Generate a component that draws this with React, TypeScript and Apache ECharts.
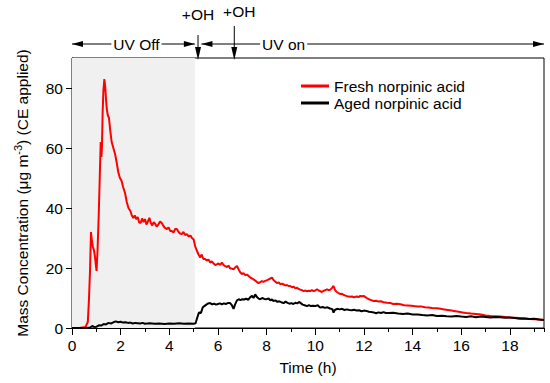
import React, { useEffect, useRef } from "react";
import * as echarts from "echarts";

const FONT = "'Liberation Sans', Arial, sans-serif";
const FS = 15.5;

// Fresh norpinic acid (red)
const freshTime = [0, 0.3, 0.55, 0.65, 0.7, 0.74, 0.78, 0.82, 0.86, 0.9, 0.94, 0.98, 1.01, 1.05, 1.1, 1.14, 1.18, 1.21, 1.23, 1.26, 1.29, 1.33, 1.37, 1.4, 1.43, 1.47, 1.52, 1.57, 1.63, 1.7, 1.77, 1.84, 1.9, 1.97, 2.04, 2.1, 2.18, 2.25, 2.32, 2.4, 2.46, 2.52, 2.58, 2.64, 2.7, 2.76, 2.82, 2.88, 2.94, 3.0, 3.06, 3.12, 3.18, 3.24, 3.3, 3.36, 3.42, 3.48, 3.55, 3.62, 3.69, 3.76, 3.83, 3.9, 3.97, 4.04, 4.1, 4.17, 4.24, 4.31, 4.38, 4.44, 4.51, 4.58, 4.65, 4.72, 4.8, 4.87, 4.93, 5.0, 5.06, 5.12, 5.2, 5.27, 5.33, 5.4, 5.47, 5.54, 5.61, 5.68, 5.75, 5.82, 5.89, 5.95, 6.02, 6.09, 6.16, 6.23, 6.3, 6.37, 6.44, 6.5, 6.57, 6.64, 6.71, 6.78, 6.85, 6.92, 6.98, 7.05, 7.12, 7.19, 7.26, 7.33, 7.4, 7.46, 7.53, 7.6, 7.67, 7.74, 7.8, 7.87, 7.94, 8.0, 8.08, 8.15, 8.22, 8.28, 8.35, 8.42, 8.5, 8.56, 8.63, 8.7, 8.77, 8.84, 8.9, 8.97, 9.04, 9.11, 9.18, 9.25, 9.32, 9.38, 9.45, 9.52, 9.6, 9.66, 9.73, 9.79, 9.86, 9.93, 10.0, 10.07, 10.14, 10.2, 10.27, 10.34, 10.41, 10.48, 10.55, 10.62, 10.68, 10.75, 10.82, 10.89, 10.96, 11.03, 11.1, 11.17, 11.24, 11.3, 11.37, 11.44, 11.51, 11.58, 11.65, 11.72, 11.78, 11.85, 11.92, 11.99, 12.06, 12.13, 12.2, 12.3, 12.4, 12.5, 12.6, 12.7, 12.8, 12.95, 13.1, 13.2, 13.35, 13.5, 13.65, 13.8, 13.95, 14.05, 14.2, 14.35, 14.5, 14.65, 14.8, 15.0, 15.15, 15.3, 15.45, 15.6, 15.75, 15.9, 16.05, 16.2, 16.4, 16.6, 16.8, 17.0, 17.2, 17.4, 17.6, 17.8, 18.0, 18.2, 18.4, 18.6, 18.8, 19.0, 19.2, 19.4];
const freshValues = [0, 0, 0.3, 2, 10, 19, 32, 29, 27, 26, 24, 21, 19, 26, 38, 50, 62, 57, 60, 72, 79, 83, 80, 76, 73, 71, 70, 66, 62, 60, 58, 55, 52, 50, 49, 47, 45, 42, 40, 39, 37.5, 36.7, 37.5, 36.3, 37, 35.2, 35, 36.5, 35.3, 36.3, 34.5, 35.5, 36.7, 35, 34.2, 35.3, 34.7, 33.8, 34.5, 35.5, 35, 34, 33.3, 33, 33.5, 32.3, 32.3, 31.8, 33, 33, 32, 31.5, 31.3, 32, 31, 31.3, 30.5, 30.8, 30, 29.5, 27.3, 26, 24.5, 23.5, 24.5, 23, 23, 22.5, 22.8, 21.8, 22.2, 21.5, 21, 21.2, 21.5, 21, 21.8, 21, 20.6, 20.3, 20.8, 19.8, 19.8, 19.6, 20.2, 20.7, 19.5, 18.5, 18, 18.3, 17.6, 17.8, 17.3, 16.8, 16.5, 16.2, 15.8, 15.3, 15, 15.3, 15.6, 15.4, 15.7, 15.9, 16.2, 16.5, 16.8, 16, 15.5, 15, 15.2, 14.6, 14.8, 14.5, 14.2, 14.3, 14, 14, 13.6, 13.8, 13.2, 13.4, 13, 12.8, 12.6, 12.3, 12.5, 12.2, 12.4, 12.3, 12.6, 12.3, 12.5, 12.9, 12.5, 12.3, 12.0, 12.4, 12.6, 12.9, 12.6, 12.8, 13.3, 14, 12.5, 12, 11.6, 11.3, 11.4, 11.0, 10.8, 10.6, 10.5, 10.4, 10.5, 10.2, 10.4, 10.5, 10.3, 10.7, 10.6, 10.7, 10.3, 9.9, 9.6, 9.3, 9.0, 9.1, 8.8, 8.9, 8.6, 8.4, 8.3, 8.0, 8.1, 7.9, 7.6, 7.5, 7.4, 7.3, 7.2, 7.2, 6.9, 6.8, 6.7, 6.6, 6.4, 6.2, 6.0, 5.8, 5.6, 5.4, 5.2, 5.0, 4.8, 4.7, 4.5, 4.2, 4.0, 3.9, 3.8, 3.7, 3.5, 3.4, 3.3, 3.2, 3.0, 2.9, 2.8, 2.7];

// Aged norpinic acid (black)
const agedTime = [0, 0.6, 0.75, 0.85, 0.9, 1.0, 1.1, 1.2, 1.3, 1.4, 1.5, 1.6, 1.7, 1.8, 1.9, 2.0, 2.1, 2.2, 2.3, 2.4, 2.5, 2.6, 2.7, 2.8, 2.9, 3.0, 3.2, 3.4, 3.6, 3.8, 4.0, 4.2, 4.4, 4.6, 4.8, 5.0, 5.08, 5.15, 5.22, 5.3, 5.37, 5.44, 5.52, 5.6, 5.68, 5.76, 5.84, 5.92, 6.0, 6.08, 6.16, 6.24, 6.32, 6.4, 6.5, 6.57, 6.64, 6.7, 6.78, 6.85, 6.92, 7.0, 7.08, 7.16, 7.24, 7.32, 7.4, 7.46, 7.53, 7.6, 7.67, 7.74, 7.82, 7.9, 8.0, 8.08, 8.15, 8.22, 8.28, 8.36, 8.44, 8.52, 8.6, 8.7, 8.78, 8.86, 8.94, 9.02, 9.1, 9.18, 9.26, 9.33, 9.4, 9.48, 9.56, 9.66, 9.74, 9.82, 9.9, 10.0, 10.1, 10.2, 10.3, 10.4, 10.5, 10.6, 10.7, 10.75, 10.8, 10.9, 11.0, 11.1, 11.2, 11.3, 11.4, 11.5, 11.6, 11.7, 11.8, 11.9, 12.0, 12.1, 12.2, 12.3, 12.4, 12.5, 12.6, 12.7, 12.8, 12.9, 13.0, 13.2, 13.4, 13.6, 13.8, 14.0, 14.2, 14.4, 14.6, 14.8, 15.0, 15.2, 15.4, 15.6, 15.8, 16.0, 16.2, 16.4, 16.6, 16.8, 17.0, 17.2, 17.4, 17.6, 17.8, 18.0, 18.2, 18.4, 18.6, 18.8, 19.0, 19.2, 19.4];
const agedValues = [0, 0, 0.2, 0.7, 0.3, 0.4, 0.9, 0.8, 1.3, 1.2, 1.7, 1.5, 1.9, 2.2, 1.9, 2.1, 1.8, 1.9, 1.7, 1.8, 1.5, 1.7, 1.6, 1.5, 1.7, 1.4, 1.6, 1.4, 1.5, 1.3, 1.5, 1.4, 1.6, 1.4, 1.5, 1.4, 1.6, 3.5, 5.2, 5.0, 6.8, 7.3, 7.8, 8.2, 8.3, 7.9, 8.1, 7.8, 8.0, 8.2, 7.9, 8.2, 8.0, 8.3, 8.3, 7.6, 6.4, 7.8, 9.2, 9.6, 9.3, 9.6, 9.5, 9.8, 9.4, 10.2, 10.7, 10.0, 11.2, 10.3, 9.8, 9.6, 10.0, 9.7, 9.6, 9.9, 9.2, 9.5, 9.0, 9.2, 8.7, 8.9, 8.6, 8.3, 8.8, 8.4, 8.1, 8.3, 8.0, 8.4, 8.2, 8.7, 8.3, 7.8, 7.6, 7.3, 7.6, 7.3, 7.4, 7.3, 7.6, 6.8, 7.0, 6.7, 6.9, 6.5, 6.3, 5.1, 6.0, 6.4, 6.2, 6.4, 6.0, 6.2, 6.0, 5.9, 6.1, 5.8, 5.9, 5.6, 5.8, 5.7, 5.4, 5.3, 5.2, 4.9, 5.2, 5.0, 5.3, 5.0, 5.0, 5.1, 4.8, 4.7, 4.8, 4.5, 4.5, 4.3, 4.2, 4.3, 4.0, 4.1, 3.9, 3.8, 4.0, 3.8, 3.7, 3.9, 3.6, 3.8, 3.7, 3.5, 3.7, 3.6, 3.4, 3.5, 3.3, 3.1, 3.2, 3.0, 3.1, 2.8, 2.7];

const seriesNames = ["Fresh norpinic acid", "Aged norpinic acid"];
const seriesColors = ["#ff0000", "#000000"];

// Annotation times (h)
const shadeStart = 0;
const shadeEnd = 5.05;
const uvOnStart = 5.32;
const ohTimes = [5.18, 6.67];
const uvOffLabelT = 2.65;
const uvOnLabelT = 8.7;
const xMax = 19.4;
const yMax = 90;

export default function App() {
  const ref = useRef<HTMLDivElement>(null);
  useEffect(() => {
    if (!ref.current) return;
    const chart = echarts.init(ref.current, null, { renderer: "svg" });
    const txt = { color: "#000", fontSize: FS, fontFamily: FONT };
    const fresh = freshTime.map((t, i) => [t, freshValues[i]]);
    const aged = agedTime.map((t, i) => [t, agedValues[i]]);
    chart.setOption({
      animation: false,
      grid: { left: 72, right: 6, top: 58, bottom: 55, show: true, borderColor: "#000", borderWidth: 1, backgroundColor: "transparent" },
      legend: {
        orient: "vertical",
        left: 296,
        top: 73,
        itemWidth: 28,
        itemHeight: 3,
        itemGap: 1,
        icon: "rect",
        textStyle: { ...txt },
        data: seriesNames,
      },
      xAxis: [
        {
          type: "value", min: 0, max: xMax, interval: 2, position: "bottom",
          axisLine: { onZero: false, lineStyle: { color: "#000", width: 1 } },
          axisTick: { length: 7, lineStyle: { color: "#000" } },
          axisLabel: { ...txt, margin: 9, showMaxLabel: false },
          splitLine: { show: false },
          name: "Time (h)", nameLocation: "middle", nameGap: 31, nameTextStyle: { ...txt },
        },
        {
          type: "value", min: 0, max: xMax, interval: 1, position: "bottom",
          axisLine: { show: false }, axisTick: { length: 4, lineStyle: { color: "#000" } },
          axisLabel: { show: false }, splitLine: { show: false },
        },
      ],
      yAxis: {
        type: "value", min: 0, max: yMax, interval: 20,
        axisLine: { show: true, lineStyle: { color: "#000", width: 1 } },
        axisTick: { show: true, length: 6, lineStyle: { color: "#000" } },
        axisLabel: { ...txt, margin: 9, showMaxLabel: false },
        splitLine: { show: false },
        name: "{n|Mass Concentration (μg m}{s|-3}{n|) (CE applied)}",
        nameLocation: "middle", nameGap: 39,
        nameTextStyle: {
          ...txt,
          rich: {
            n: { fontSize: FS, fontFamily: FONT, color: "#000", lineHeight: 21 },
            s: { fontSize: 11, fontFamily: FONT, color: "#000", lineHeight: 11, verticalAlign: "top" },
          },
        },
      },
      series: [
        {
          name: seriesNames[0], type: "line", data: fresh, showSymbol: false, symbol: "none",
          lineStyle: { color: seriesColors[0], width: 2 }, itemStyle: { color: seriesColors[0] }, z: 3,
          markArea: {
            silent: true,
            itemStyle: { color: "#f0f0f0" },
            data: [[{ xAxis: shadeStart }, { xAxis: shadeEnd }]],
          },
        },
        {
          name: seriesNames[1], type: "line", data: aged, showSymbol: false, symbol: "none",
          lineStyle: { color: seriesColors[1], width: 2 }, itemStyle: { color: seriesColors[1] }, z: 4,
        },
      ],
    });

    const px = (t: number) => chart.convertToPixel({ xAxisIndex: 0 }, t) as number;
    const top = chart.convertToPixel({ yAxisIndex: 0 }, yMax) as number;
    const ay = top - 14;
    const hArrow = (x: number, dir: number) => ({
      type: "polygon", silent: true,
      shape: { points: [[x, ay], [x - dir * 11, ay - 3], [x - dir * 11, ay + 3]] },
      style: { fill: "#000" },
    });
    const vArrow = (x: number) => ({
      type: "polygon", silent: true,
      shape: { points: [[x, top + 2], [x - 3, top - 11], [x + 3, top - 11]] },
      style: { fill: "#000" },
    });
    const line = (x1: number, y1: number, x2: number, y2: number) => ({
      type: "line", silent: true, shape: { x1, y1, x2, y2 }, style: { stroke: "#000", lineWidth: 1 },
    });
    const label = (x: number, y: number, text: string) => ({
      type: "text", silent: true, x, y,
      style: { text, fill: "#000", font: `${FS}px ${FONT}`, align: "center", verticalAlign: "middle", backgroundColor: "#fff", padding: [0, 2] },
    });
    const x0 = px(shadeStart), xOffEnd = px(shadeEnd), xOnStart = px(uvOnStart), xEnd = px(xMax);
    const oh1 = px(ohTimes[0]), oh2 = px(ohTimes[1]);
    chart.setOption({
      graphic: [
        line(x0, ay, xOffEnd, ay),
        hArrow(x0, -1), hArrow(xOffEnd, 1),
        label(px(uvOffLabelT), ay, "UV Off"),
        line(xOnStart, ay, xEnd, ay),
        hArrow(xOnStart, -1), hArrow(xEnd, 1),
        label(px(uvOnLabelT), ay, "UV on"),
        line(oh1, top - 23, oh1, top - 5),
        vArrow(oh1),
        line(oh2, top - 32, oh2, top - 5),
        vArrow(oh2),
        { type: "text", silent: true, x: oh1, y: top - 44, style: { text: "+OH", fill: "#000", font: `${FS}px ${FONT}`, align: "center", verticalAlign: "middle" } },
        { type: "text", silent: true, x: oh2 + 5, y: top - 47, style: { text: "+OH", fill: "#000", font: `${FS}px ${FONT}`, align: "center", verticalAlign: "middle" } },
      ],
    });
    return () => chart.dispose();
  }, []);
  return <div ref={ref} style={{ position: "absolute", left: 0, top: 0, width: 550, height: 383 }} />;
}
